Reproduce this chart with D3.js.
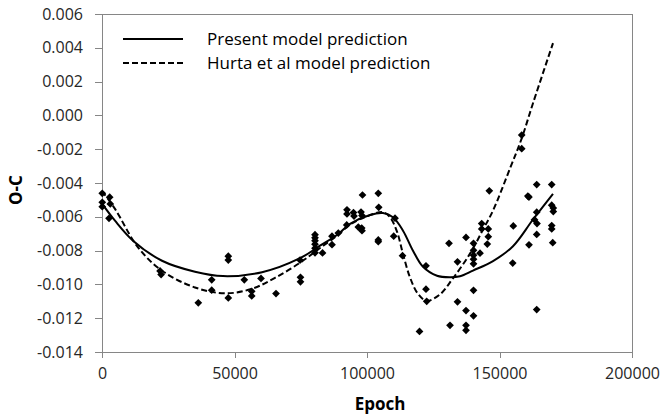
<!DOCTYPE html>
<html>
<head>
<meta charset="utf-8">
<script src="https://cdn.jsdelivr.net/npm/d3@7"></script>
<style>
  html, body { margin: 0; padding: 0; background: #fff; }
  svg { display: block; }
</style>
</head>
<body>
<svg id="chart" width="665" height="416"></svg>
<script>
// Observed O-C timings
const obsEpoch = [
  100, 100, 100, 2900, 3130, 2640,
  21900, 22300, 36340, 41400, 41400,
  47660, 47660, 47660, 53700, 56490, 56490, 60000, 65660,
  74720, 74900, 74900,
  80380, 80380, 80380, 80380, 80380, 80380, 83210,
  86790, 86790, 89170,
  92450, 92450, 92340, 94900, 95100, 97740, 98110, 96720, 98000, 98110, 98300,
  104260, 104420, 104260, 104260,
  110570, 110080, 113400,
  122260, 122260, 122530, 119810,
  130940, 131320, 134150, 134150,
  137360, 137360, 137360, 137360,
  140190, 140190, 140190, 140190, 140190, 142640, 140190, 140190,
  143280, 143280, 145770, 145770, 145400, 146150,
  155210, 154980, 158380, 158380,
  160700, 161100, 164040, 169700,
  164040, 164150, 163210, 164040, 161130,
  169700, 170300, 170300, 169700, 169700, 170080, 164040
];
const obsOC = [
  -0.00461, -0.00514, -0.00540, -0.00484, -0.00524, -0.00609,
  -0.00920, -0.00942, -0.01109, -0.00973, -0.01034,
  -0.00833, -0.00856, -0.01080, -0.00973, -0.01041, -0.01068, -0.00965, -0.01054,
  -0.00856, -0.00958, -0.00985,
  -0.00706, -0.00724, -0.00741, -0.00762, -0.00786, -0.00813, -0.00814,
  -0.00715, -0.00765, -0.00696,
  -0.00559, -0.00583, -0.00648, -0.00575, -0.00596, -0.00572, -0.00593, -0.00661, -0.00667, -0.00682, -0.00471,
  -0.00461, -0.00544, -0.00737, -0.00747,
  -0.00608, -0.00715, -0.00830,
  -0.00890, -0.01028, -0.01100, -0.01278,
  -0.00757, -0.01242, -0.00866, -0.01103,
  -0.00722, -0.01155, -0.01242, -0.01272,
  -0.00757, -0.00798, -0.00827, -0.00851, -0.00878, -0.00815, -0.01035, -0.01186,
  -0.00640, -0.00672, -0.00672, -0.00718, -0.00761, -0.00446,
  -0.00654, -0.00874, -0.00116, -0.00197,
  -0.00477, -0.00483, -0.00409, -0.00409,
  -0.00573, -0.00640, -0.00617, -0.00704, -0.00766,
  -0.00531, -0.00548, -0.00569, -0.00652, -0.00672, -0.00753, -0.01149
];

// Present model prediction
const presentEpoch = [0, 4900, 11700, 22640, 35090, 45660, 60380, 74720, 82260, 89060, 93590,
  101130, 106040, 109810, 113590, 117360, 121130, 126420, 131320, 135090, 140000,
  147550, 155090, 162640, 170190];
const presentOC = [-0.00522, -0.00623, -0.00741, -0.00860, -0.00925, -0.00951, -0.00928, -0.00845,
  -0.00771, -0.00703, -0.00642, -0.00589, -0.00578, -0.00603, -0.00682, -0.00801, -0.00896,
  -0.00949, -0.00958, -0.00952, -0.00918, -0.00862, -0.00774, -0.00616, -0.00464];

// Hurta et al model prediction
const hurtaEpoch = [0, 4900, 13590, 22640, 35090, 46420, 56600, 65280, 74720, 82260, 89060,
  93590, 100000, 106040, 108680, 111320, 113590, 116230, 119250, 122530, 127550,
  132450, 138870, 143770, 147550, 153960, 158380, 162640, 170190];
const hurtaOC = [-0.00448, -0.00553, -0.00781, -0.00919, -0.01018, -0.01053, -0.01026, -0.00961,
  -0.00872, -0.00785, -0.00707, -0.00646, -0.00597, -0.00573, -0.00603, -0.00688, -0.00820,
  -0.00959, -0.01056, -0.01097, -0.01059, -0.00964, -0.00818, -0.00676, -0.00563, -0.00314,
  -0.00136, 0.00072, 0.00428];

const xTicks = [0, 50000, 100000, 150000, 200000];
const yTicks = [0.006, 0.004, 0.002, 0.000, -0.002, -0.004, -0.006, -0.008, -0.010, -0.012, -0.014];

const legendLabels = ["Present model prediction", "Hurta et al model prediction"];

const svg = d3.select("#chart");
const plot = { left: 102, right: 632, top: 14, bottom: 352 };
const axisColor = "#868686";
const font = "'Open Sans', 'Liberation Sans', sans-serif";

const x = d3.scaleLinear().domain([0, 200000]).range([plot.left, plot.right]);
const y = d3.scaleLinear().domain([-0.014, 0.006]).range([plot.bottom, plot.top]);

// plot area frame
svg.append("rect")
  .attr("x", plot.left).attr("y", plot.top)
  .attr("width", plot.right - plot.left).attr("height", plot.bottom - plot.top)
  .attr("fill", "none").attr("stroke", axisColor).attr("stroke-width", 1)
  .attr("shape-rendering", "crispEdges");

// axes
const xAxis = d3.axisBottom(x).tickValues(xTicks).tickSize(6).tickPadding(10)
  .tickFormat(d3.format("d"));
const yAxis = d3.axisLeft(y).tickValues(yTicks).tickSize(7).tickPadding(12)
  .tickFormat(d3.format(".3f"));

const gx = svg.append("g").attr("transform", `translate(0,${plot.bottom})`).call(xAxis);
const gy = svg.append("g").attr("transform", `translate(${plot.left},0)`).call(yAxis);
[gx, gy].forEach(g => {
  g.selectAll(".domain, line").attr("stroke", axisColor).attr("shape-rendering", "crispEdges");
  g.selectAll("text").attr("fill", "#262626").style("font-family", font).style("font-size", "16px");
});
gy.selectAll("text").text(d => d3.format(".3f")(d).replace("−", "-"));

// axis titles
svg.append("text")
  .attr("x", 380).attr("y", 410)
  .attr("text-anchor", "middle")
  .style("font-family", font).style("font-size", "17px").style("font-weight", "bold")
  .attr("fill", "#000")
  .text("Epoch");
svg.append("text")
  .attr("transform", "translate(22,190) rotate(-90)")
  .attr("text-anchor", "middle")
  .style("font-family", font).style("font-size", "17px").style("font-weight", "bold")
  .attr("fill", "#000")
  .text("O-C");

// model curves
const line = (ex, oc) => d3.line()
  .x(i => x(ex[i])).y(i => y(oc[i]))
  .curve(d3.curveCatmullRom.alpha(0.5))(d3.range(ex.length));

svg.append("path")
  .attr("d", line(hurtaEpoch, hurtaOC))
  .attr("fill", "none").attr("stroke", "#000").attr("stroke-width", 2)
  .attr("stroke-dasharray", "6,3");
svg.append("path")
  .attr("d", line(presentEpoch, presentOC))
  .attr("fill", "none").attr("stroke", "#000").attr("stroke-width", 2);

// observations
const diamond = d3.symbol().type(d3.symbolSquare).size(30);
svg.append("g").selectAll("path")
  .data(d3.range(obsEpoch.length))
  .join("path")
  .attr("d", diamond)
  .attr("transform", i => `translate(${x(obsEpoch[i])},${y(obsOC[i])}) rotate(45)`)
  .attr("fill", "#000");

// legend
const legend = svg.append("g");
const legendRows = [
  { label: legendLabels[0], dash: null, ly: 39 },
  { label: legendLabels[1], dash: "6,3", ly: 63 }
];
legendRows.forEach(r => {
  legend.append("line")
    .attr("x1", 123).attr("x2", 183).attr("y1", r.ly).attr("y2", r.ly)
    .attr("stroke", "#000").attr("stroke-width", 2)
    .attr("stroke-dasharray", r.dash);
  legend.append("text")
    .attr("x", 207).attr("y", r.ly + 6)
    .style("font-family", font).style("font-size", "17px")
    .attr("fill", "#000")
    .text(r.label);
});
</script>
</body>
</html>
